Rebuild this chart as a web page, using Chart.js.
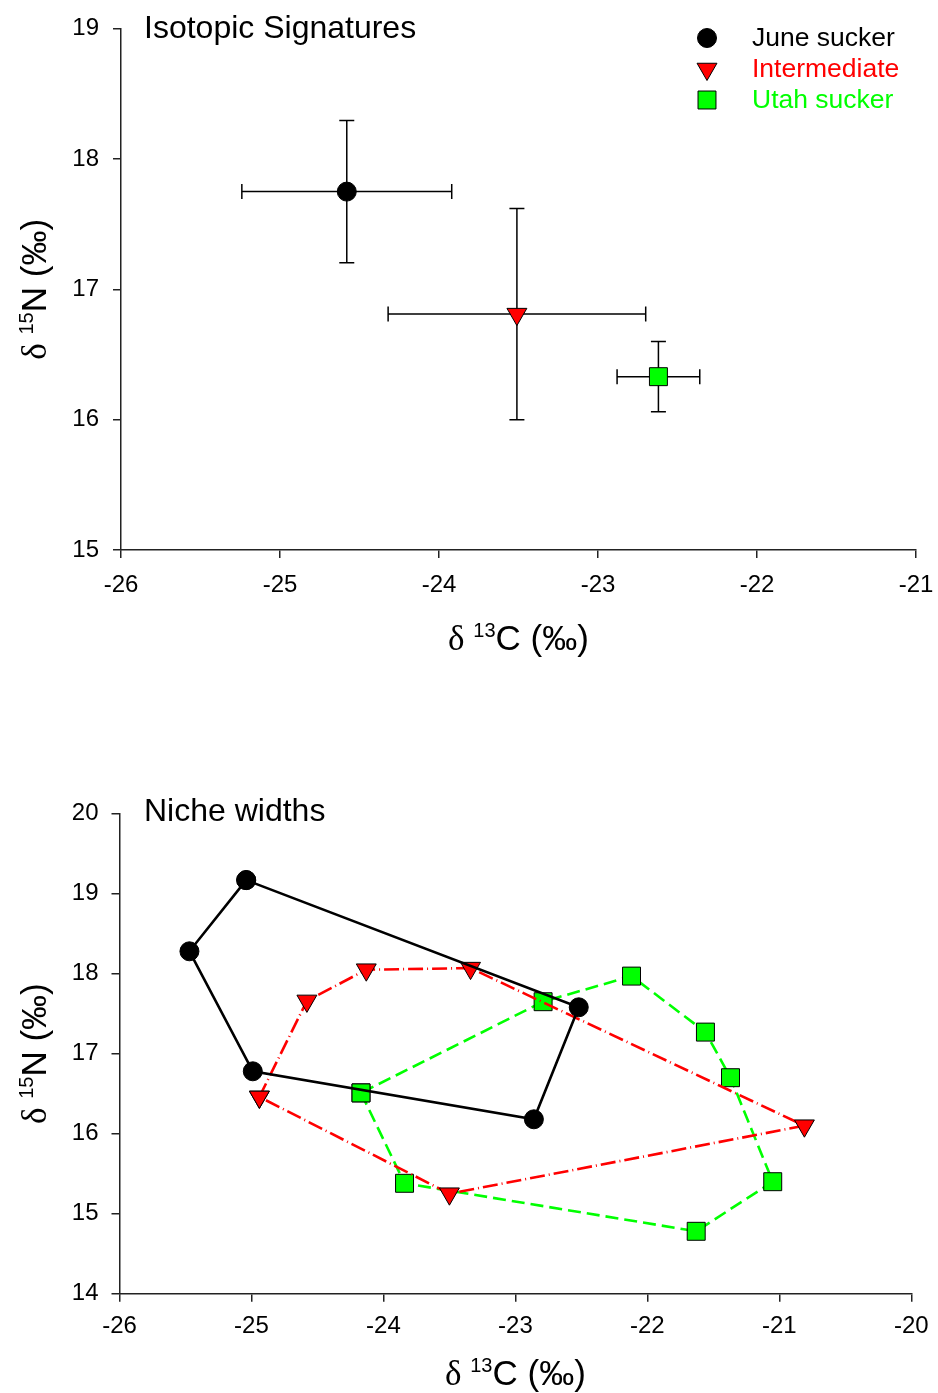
<!DOCTYPE html>
<html>
<head>
<meta charset="utf-8">
<script src="https://cdn.jsdelivr.net/npm/chart.js@4.4.1/dist/chart.umd.min.js"></script>
<style>
  body { margin: 0; background: #fff; }
  canvas { display: block; }
</style>
</head>
<body>
<canvas id="meansChart" width="938" height="696"></canvas>
<canvas id="nicheChart" width="938" height="697"></canvas>
<script>
// Species / groups
const groups = ["June sucker", "Intermediate", "Utah sucker"];
const groupColors = ["#000000", "#ff0000", "#00ff00"];

// Mean isotope values with error bars (d13C, d15N)
const meanC13 = [-24.58, -23.51, -22.62];
const meanN15 = [17.75, 16.81, 16.33];
const errC13 = [0.66, 0.81, 0.26];
const errN15 = [0.545, 0.81, 0.27];

// Convex hull vertices for the niche widths (first point repeated to close)
const juneC13 = [-25.04, -22.52, -22.86, -24.99, -25.47, -25.04];
const juneN15 = [19.17, 17.58, 16.18, 16.78, 18.28, 19.17];
const interC13 = [-24.94, -24.58, -24.13, -23.34, -20.81, -23.50, -24.94];
const interN15 = [16.46, 17.66, 18.05, 18.07, 16.10, 15.25, 16.46];
const utahC13 = [-24.17, -23.84, -21.63, -21.05, -21.37, -21.56, -22.12, -22.79, -24.17];
const utahN15 = [16.51, 15.38, 14.78, 15.40, 16.70, 17.27, 17.97, 17.65, 16.51];

// Axis ranges
const meansX = [-26, -21];
const meansY = [15, 19];
const nicheX = [-26, -20];
const nicheY = [14, 20];

const SANS = "'Liberation Sans', Arial, sans-serif";
const SERIF = "'Liberation Serif', 'Times New Roman', serif";

const markers = [
  { pointStyle: "circle", radius: 9.5, rotation: 0 },
  { pointStyle: "triangle", radius: 11.5, rotation: 180 },
  { pointStyle: "rect", radius: 12.7, rotation: 0 }
];

function toPoints(xs, ys) {
  return xs.map((v, i) => ({ x: v, y: ys[i] }));
}

function markerProps(i) {
  return {
    pointStyle: markers[i].pointStyle,
    pointRadius: markers[i].radius,
    pointRotation: markers[i].rotation,
    pointBackgroundColor: groupColors[i],
    pointBorderColor: "#000",
    pointBorderWidth: 1,
    pointHoverRadius: markers[i].radius
  };
}

// delta notation axis title: serif delta, raised mass number, element and units
function axisTitle(ctx, x, y, mass, elem, rotate) {
  ctx.save();
  ctx.translate(x, y);
  if (rotate) ctx.rotate(-Math.PI / 2);
  const parts = [
    { t: "\u03b4 ", font: "35px " + SERIF, dy: 0 },
    { t: mass, font: "20px " + SANS, dy: -13 },
    { t: elem + " (\u2030)", font: "35px " + SANS, dy: 0 }
  ];
  let total = 0;
  parts.forEach(p => { ctx.font = p.font; p.w = ctx.measureText(p.t).width; total += p.w; });
  let cx = -total / 2;
  ctx.fillStyle = "#000";
  ctx.textAlign = "left";
  ctx.textBaseline = "alphabetic";
  parts.forEach(p => { ctx.font = p.font; ctx.fillText(p.t, cx, p.dy); cx += p.w; });
  ctx.restore();
}

function decorations(title, titleDrop, xTitleGap) {
  return {
    id: "decorations",
    afterDraw(chart) {
      const { ctx, chartArea } = chart;
      ctx.save();
      ctx.fillStyle = "#000";
      ctx.font = "32px " + SANS;
      ctx.textAlign = "left";
      ctx.textBaseline = "alphabetic";
      ctx.fillText(title, 144, chartArea.top + titleDrop);
      ctx.restore();
      const midX = (chartArea.left + chartArea.right) / 2;
      const midY = (chartArea.top + chartArea.bottom) / 2;
      axisTitle(ctx, midX, chartArea.bottom + xTitleGap, "13", "C", false);
      axisTitle(ctx, 46, midY, "15", "N", true);
    }
  };
}

const errorBars = {
  id: "errorBars",
  beforeDatasetsDraw(chart) {
    const { ctx, scales: { x, y } } = chart;
    const cap = 7.5;
    ctx.save();
    ctx.strokeStyle = "#000";
    ctx.lineWidth = 1.5;
    meanC13.forEach((c, i) => {
      const px = x.getPixelForValue(c);
      const py = y.getPixelForValue(meanN15[i]);
      const x0 = x.getPixelForValue(c - errC13[i]);
      const x1 = x.getPixelForValue(c + errC13[i]);
      const y0 = y.getPixelForValue(meanN15[i] - errN15[i]);
      const y1 = y.getPixelForValue(meanN15[i] + errN15[i]);
      ctx.beginPath();
      ctx.moveTo(x0, py); ctx.lineTo(x1, py);
      ctx.moveTo(x0, py - cap); ctx.lineTo(x0, py + cap);
      ctx.moveTo(x1, py - cap); ctx.lineTo(x1, py + cap);
      ctx.moveTo(px, y0); ctx.lineTo(px, y1);
      ctx.moveTo(px - cap, y0); ctx.lineTo(px + cap, y0);
      ctx.moveTo(px - cap, y1); ctx.lineTo(px + cap, y1);
      ctx.stroke();
    });
    ctx.restore();
  }
};

const legendBox = {
  id: "legendBox",
  afterDraw(chart) {
    const ctx = chart.ctx;
    ctx.save();
    groups.forEach((g, i) => {
      const cy = 38 + i * 31;
      ctx.fillStyle = groupColors[i];
      ctx.strokeStyle = "#000";
      ctx.lineWidth = 1;
      Chart.helpers.drawPoint(ctx, {
        pointStyle: markers[i].pointStyle,
        radius: markers[i].radius,
        rotation: markers[i].rotation,
        borderWidth: 1
      }, 707, cy);
      ctx.fillStyle = groupColors[i];
      ctx.font = "26.5px " + SANS;
      ctx.textAlign = "left";
      ctx.textBaseline = "middle";
      ctx.fillText(g, 752, cy + 1);
    });
    ctx.restore();
  }
};

function axisOptions(range, size, isX, pad) {
  return {
    type: "linear",
    min: range[0],
    max: range[1],
    ticks: { stepSize: 1, color: "#000", font: { family: SANS, size: 24 }, padding: pad },
    grid: { drawOnChartArea: false, drawTicks: true, tickLength: 8, color: "#222", lineWidth: 1.5 },
    border: { display: true, color: "#222", width: 1.5 },
    afterFit: s => {
      if (isX) s.height = size; else s.width = size;
      // let layout.padding alone decide where the plot area ends
      s.paddingLeft = s.paddingRight = s.paddingTop = s.paddingBottom = 0;
    }
  };
}

// Upper panel: group means with error bars
new Chart(document.getElementById("meansChart"), {
  type: "scatter",
  data: {
    datasets: groups.map((g, i) => Object.assign({
      label: g,
      data: [{ x: meanC13[i], y: meanN15[i] }]
    }, markerProps(i)))
  },
  options: {
    responsive: false,
    animation: false,
    layout: { padding: { top: 28.7, right: 22, left: 0, bottom: 0 } },
    plugins: { legend: { display: false }, tooltip: { enabled: false } },
    scales: {
      x: axisOptions(meansX, 146, true, 13),
      y: axisOptions(meansY, 121, false, 14)
    }
  },
  plugins: [errorBars, legendBox, decorations("Isotopic Signatures", 9, 100)]
});

// Lower panel: niche width polygons
const hullLines = [
  { xs: juneC13, ys: juneN15, dash: [], width: 2.6 },
  { xs: interC13, ys: interN15, dash: [15, 4, 1, 4], width: 2.6 },
  { xs: utahC13, ys: utahN15, dash: [13, 6], width: 2.6 }
];

new Chart(document.getElementById("nicheChart"), {
  type: "scatter",
  data: {
    datasets: groups.map((g, i) => Object.assign({
      label: g,
      data: toPoints(hullLines[i].xs, hullLines[i].ys),
      showLine: true,
      borderColor: groupColors[i],
      borderWidth: hullLines[i].width,
      borderDash: hullLines[i].dash,
      tension: 0
    }, markerProps(i)))
  },
  options: {
    responsive: false,
    animation: false,
    layout: { padding: { top: 117.7, right: 26.7, left: 0, bottom: 0 } },
    plugins: { legend: { display: false }, tooltip: { enabled: false } },
    scales: {
      x: axisOptions(nicheX, 99.3, true, 10),
      y: axisOptions(nicheY, 119.5, false, 13)
    }
  },
  plugins: [decorations("Niche widths", 7.5, 91)]
});
</script>
</body>
</html>
